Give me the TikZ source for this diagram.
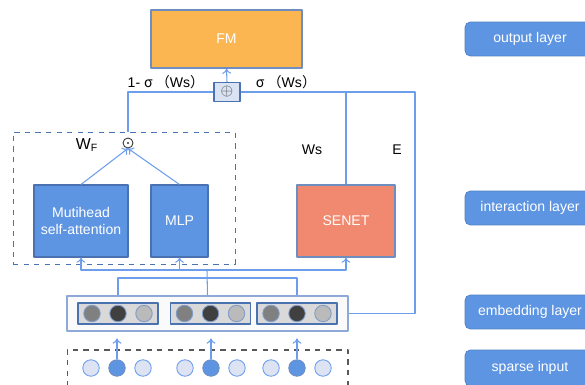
\documentclass[tikz,border=0pt]{standalone}
\usepackage{fontspec}
\setmainfont{Liberation Sans}
\newfontfamily\cjk{Noto Sans CJK SC}
\usetikzlibrary{arrows.meta,positioning}
\definecolor{lineblue}{HTML}{6D9EEB}
\definecolor{boxblue}{HTML}{5D95E3}
\definecolor{edgeblue}{HTML}{4A72B0}
\definecolor{fmorange}{HTML}{FBB651}
\definecolor{senetred}{HTML}{F0896F}
\definecolor{plusfill}{HTML}{DAE3F3}
\definecolor{embedge}{HTML}{8EA9D8}
\definecolor{sparselight}{HTML}{DDE3F2}
\tikzset{
  link/.style={draw=lineblue, line width=0.6pt},
  block/.style={draw=edgeblue, line width=0.6pt, text=white, align=center, inner sep=0pt},
  layerbox/.style={fill=boxblue, draw=boxblue!85!black, rounded corners=3pt, text=white,
    minimum width=2.6cm, minimum height=0.68cm, line width=0.4pt},
  dot/.style={circle, minimum size=0.33cm, inner sep=0pt, line width=0.5pt}
}
\begin{document}
\begin{tikzpicture}[x=0.02cm, y=-0.02cm, font=\fontsize{8}{9.5}\selectfont, line join=round, >={To[length=3pt,width=5pt]}]
\useasboundingbox (0,0) rectangle (585,385);
% output part
\node[block, fill=fmorange, draw=edgeblue!80, minimum width=3.02cm, minimum height=1.16cm] (fm) at (226.5,39) {FM};
\node[draw=edgeblue, fill=plusfill, line width=0.6pt, minimum width=0.52cm, minimum height=0.38cm, inner sep=0pt, text=black!70] (plus) at (227,92) {\small$\oplus$};
\draw[link,->] (plus.north) -- (fm.south);
% interaction part
\node[draw=edgeblue, dashed, line width=0.5pt, minimum width=4.44cm, minimum height=2.64cm] (inter) at (124,198) {};
\node[block, fill=boxblue, minimum width=1.88cm, minimum height=1.44cm] (mha) at (81,221) {Mutihead\\self-attention};
\node[block, fill=boxblue, minimum width=1.14cm, minimum height=1.44cm] (mlp) at (179.5,221) {MLP};
\node[block, fill=senetred, draw=edgeblue!80, minimum width=1.96cm, minimum height=1.44cm] (senet) at (346,221) {SENET};
\node[circle, draw=black!80, line width=0.5pt, minimum size=0.2cm, inner sep=0pt] (odot) at (128,143) {};
\fill[black!80] (odot) circle (0.6pt);
\node[font=\fontsize{9}{10}\selectfont] (wf) at (87,145) {W\textsubscript{F}};
\draw[link,->] (mha.north) -- (odot.south);
\draw[link,->] (mlp.north) -- (odot.south);
% labels
\node (lmix) at (166,82) {1- {\cjk σ （}Ws{\cjk ）}};
\node (rmix) at (286,82) {{\cjk σ （}Ws{\cjk ）}};
\node (ws) at (312,150) {Ws};
\node (ee) at (397,150) {E};
% embedding part
\node[draw=embedge, fill=black!2, line width=1pt, minimum width=5.62cm, minimum height=0.7cm] (emb) at (207.5,313.5) {};
\foreach \g/\x in {1/118,2/210.5,3/297}{
  \node[draw=edgeblue, fill=black!15, line width=0.6pt, minimum width=1.6cm, minimum height=0.42cm] (g\g) at (\x,313.5) {};
  \node[dot, draw=edgeblue!70, fill=black!50] (e\g1) at (\x-26,313.5) {};
  \node[dot, draw=edgeblue!70, fill=black!75] (e\g2) at (\x,313.5) {};
  \node[dot, draw=edgeblue!70, fill=black!27] (e\g3) at (\x+26,313.5) {};
}
% sparse input
\node[draw=black!65, dashed, line width=0.6pt, minimum width=5.62cm, minimum height=1cm] (sparse) at (207.5,375) {};
\foreach \g/\x in {1/117,2/211,3/297}{
  \node[dot, draw=lineblue, fill=sparselight] (s\g1) at (\x-26,368) {};
  \node[dot, draw=edgeblue!80, fill=boxblue] (s\g2) at (\x,368) {};
  \node[dot, draw=lineblue, fill=sparselight] (s\g3) at (\x+26,368) {};
  \draw[link,->, shorten >=1.3mm] (s\g2.north) -- (s\g2.north |- emb.south);
}
% connections
\coordinate (bus) at (207,270);
\coordinate (brk) at (207,278);
\coordinate (etop) at (415,92);
\draw[link] (emb.north -| g1) |- (brk) -| (emb.north -| g3);
\draw[link] (emb.north) -- (bus);
\draw[link,->] (bus) -| (mha.south);
\draw[link,->] (bus) -| (mlp.south);
\draw[link,->] (bus) -| (senet.south);
\draw[link] (plus.west) -| (inter.north -| odot);
\draw[link] (plus.east) -- (etop) |- (emb.east);
\draw[link] (senet.north) -- (senet.north |- plus.east);
% layer names
\node[layerbox] (outl) at (530,39) {output layer};
\node[layerbox] (intl) at (530,208) {interaction layer};
\node[layerbox] (embl) at (530,312) {embedding layer};
\node[layerbox, minimum height=0.72cm] (spl) at (530,368) {sparse input};
\end{tikzpicture}
\end{document}
